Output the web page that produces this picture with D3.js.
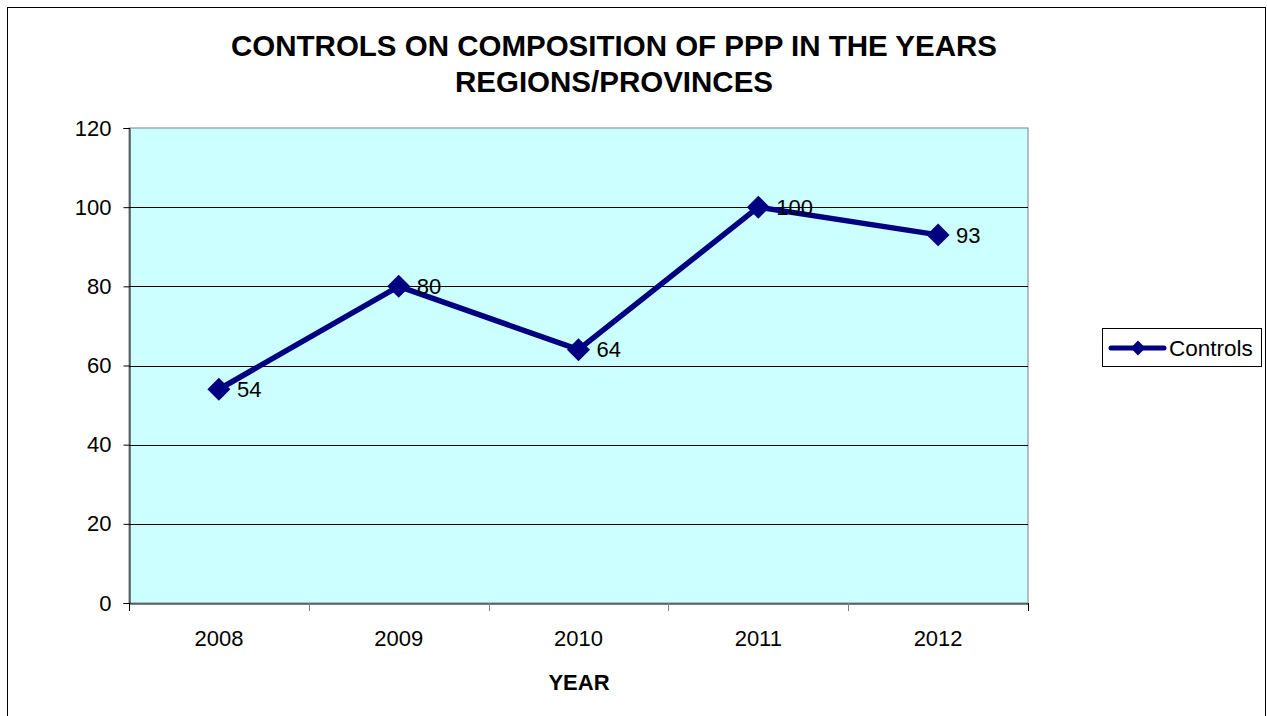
<!DOCTYPE html>
<html><head><meta charset="utf-8">
<script src="https://cdn.jsdelivr.net/npm/d3@7"></script>
<style>body{margin:0;background:#fff}svg{display:block;font-family:Arial,"Liberation Sans",sans-serif}</style>
</head><body><svg id="c" width="1267" height="716"></svg>
<script>
const years = ["2008","2009","2010","2011","2012"];
const controls = [54, 80, 64, 100, 93];
const yTicks = [0, 20, 40, 60, 80, 100, 120];
const titleLines = ["CONTROLS ON COMPOSITION OF PPP IN THE YEARS", "REGIONS/PROVINCES"];
const xTitle = "YEAR";
const seriesName = "Controls";

const svg = d3.select("#c");
const L = 129, R = 1028, T = 128, B = 603;
const navy = "#000080";
const FS = 22;

svg.append("rect").attr("x", 7.5).attr("y", 7.5).attr("width", 1258).attr("height", 720)
  .attr("fill", "#fff").attr("stroke", "#000").attr("stroke-width", 1);

const x = d3.scaleBand().domain(years).range([L, R]).padding(0);
const y = d3.scaleLinear().domain([0, 120]).range([B, T]);

svg.append("rect").attr("x", L).attr("y", T).attr("width", R - L).attr("height", B - T)
  .attr("fill", "#CCFFFF").attr("stroke", "#808080").attr("stroke-width", 1);

// gridlines
svg.append("g").selectAll("line").data(yTicks.filter(d => d > 0 && d < 120)).join("line")
  .attr("x1", L).attr("x2", R).attr("y1", d => Math.round(y(d)) + 0.5).attr("y2", d => Math.round(y(d)) + 0.5)
  .attr("stroke", "#000").attr("stroke-width", 1);

// y axis
const ya = svg.append("g").attr("transform", `translate(${L + 0.5},0)`)
  .call(d3.axisLeft(y).tickValues(yTicks).tickSize(6).tickPadding(12));
ya.select(".domain").attr("stroke", "#000");
ya.selectAll("text").attr("font-size", FS).attr("fill", "#000").attr("font-family", "Arial, Liberation Sans, sans-serif");
ya.selectAll(".tick line").attr("stroke", "#000");

// x axis
const xa = svg.append("g").attr("transform", `translate(0,${B + 0.5})`)
  .call(d3.axisBottom(x).tickSize(0).tickPadding(27));
xa.select(".domain").attr("stroke", "#000");
xa.selectAll("text").attr("font-size", FS).attr("fill", "#000").attr("font-family", "Arial, Liberation Sans, sans-serif");
// category boundary ticks
const bounds = years.map(d => x(d)).concat([R]);
svg.append("g").selectAll("line").data(bounds).join("line")
  .attr("x1", d => Math.round(d) + 0.5).attr("x2", d => Math.round(d) + 0.5)
  .attr("y1", B).attr("y2", B + 8).attr("stroke", (d, i) => (i === 0 || i === bounds.length - 1) ? "#000" : "#808080");

// line
const cx = d => x(d) + x.bandwidth() / 2;
svg.append("path").datum(controls)
  .attr("d", d3.line().x((d, i) => cx(years[i])).y(d => y(d)))
  .attr("fill", "none").attr("stroke", navy).attr("stroke-width", 5.5).attr("stroke-linejoin", "round");

svg.append("g").selectAll("path").data(controls).join("path")
  .attr("d", d3.symbol(d3.symbolDiamond2, 337))
  .attr("transform", (d, i) => `translate(${cx(years[i])},${y(d)})`)
  .attr("fill", navy);

// data labels
svg.append("g").selectAll("text").data(controls).join("text")
  .attr("x", (d, i) => cx(years[i]) + 18).attr("y", d => y(d)).attr("dy", "0.35em")
  .attr("font-size", FS).attr("fill", "#000").text(d => d);

// title
svg.append("g").selectAll("text").data(titleLines).join("text")
  .attr("x", 614).attr("y", (d, i) => 56 + i * 36).attr("text-anchor", "middle")
  .attr("font-size", 29.5).attr("font-weight", "bold").attr("fill", "#000").text(d => d);

svg.append("text").attr("x", 579).attr("y", 690).attr("text-anchor", "middle")
  .attr("font-size", FS).attr("font-weight", "bold").text(xTitle);

// legend
const lg = svg.append("g");
lg.append("rect").attr("x", 1102.5).attr("y", 328.5).attr("width", 159).attr("height", 38)
  .attr("fill", "#fff").attr("stroke", "#000");
lg.append("line").attr("x1", 1111).attr("x2", 1164).attr("y1", 348).attr("y2", 348)
  .attr("stroke", navy).attr("stroke-width", 5).attr("stroke-linecap", "round");
lg.append("path").attr("d", d3.symbol(d3.symbolDiamond2, 140)).attr("transform", "translate(1138,348)").attr("fill", navy);
lg.append("text").attr("x", 1169).attr("y", 348).attr("dy", "0.35em").attr("font-size", 22.5).text(seriesName);
</script></body></html>
